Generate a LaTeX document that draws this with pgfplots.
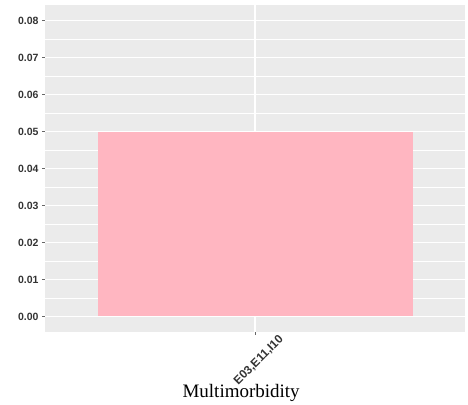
\documentclass[border=0pt]{standalone}
\usepackage{fontspec}
\setmainfont{Liberation Serif}
\newfontfamily\arial{Liberation Sans}
\usepackage{pgfplots}
\pgfplotsset{compat=1.18}
\definecolor{panel}{HTML}{EBEBEB}
\definecolor{barpink}{HTML}{FFB6C1}
\begin{document}
\begin{tikzpicture}
\begin{axis}[
  width=420pt, height=327pt, scale only axis,
  xmin=0.4, xmax=1.6, ymin=-0.0042, ymax=0.0842,
  axis background/.style={fill=panel},
  axis line style={draw=none},
  xtick={1}, xticklabels={E03{,}E11{,}I10},
  ytick={0,0.01,0.02,0.03,0.04,0.05,0.06,0.07,0.08},
  minor ytick={0.005,0.015,0.025,0.035,0.045,0.055,0.065,0.075},
  scaled y ticks=false,
  grid=both,
  major grid style={white, line width=1.1pt},
  minor grid style={white, line width=0.5pt},
  tick style={black!60, line width=0.5pt},
  tick align=outside, major tick length=3pt, minor tick length=0pt,
  xtick pos=bottom, ytick pos=left,
  /pgf/number format/assume math mode=true,
  yticklabel style={/pgf/number format/fixed, /pgf/number format/fixed zerofill, /pgf/number format/precision=2,
    font=\arial\bfseries\fontsize{10.5}{12}\selectfont, text=black!80},
  xticklabel style={xshift=29pt, yshift=0pt, rotate=45, anchor=east,
    font=\arial\bfseries\fontsize{11.8}{13}\selectfont, text=black!80},
  xlabel={Multimorbidity},
  xlabel style={at={(axis description cs:0.467,0)}, anchor=base, yshift=-65pt, font=\fontsize{19}{22}\selectfont},
]
\addplot[ybar, bar width=0.9, fill=barpink, draw=none] coordinates {(1,0.05)};
\end{axis}
\path ([xshift=-45pt,yshift=-72pt]current axis.south west) rectangle ([xshift=3pt,yshift=5pt]current axis.north east);
\end{tikzpicture}
\end{document}
